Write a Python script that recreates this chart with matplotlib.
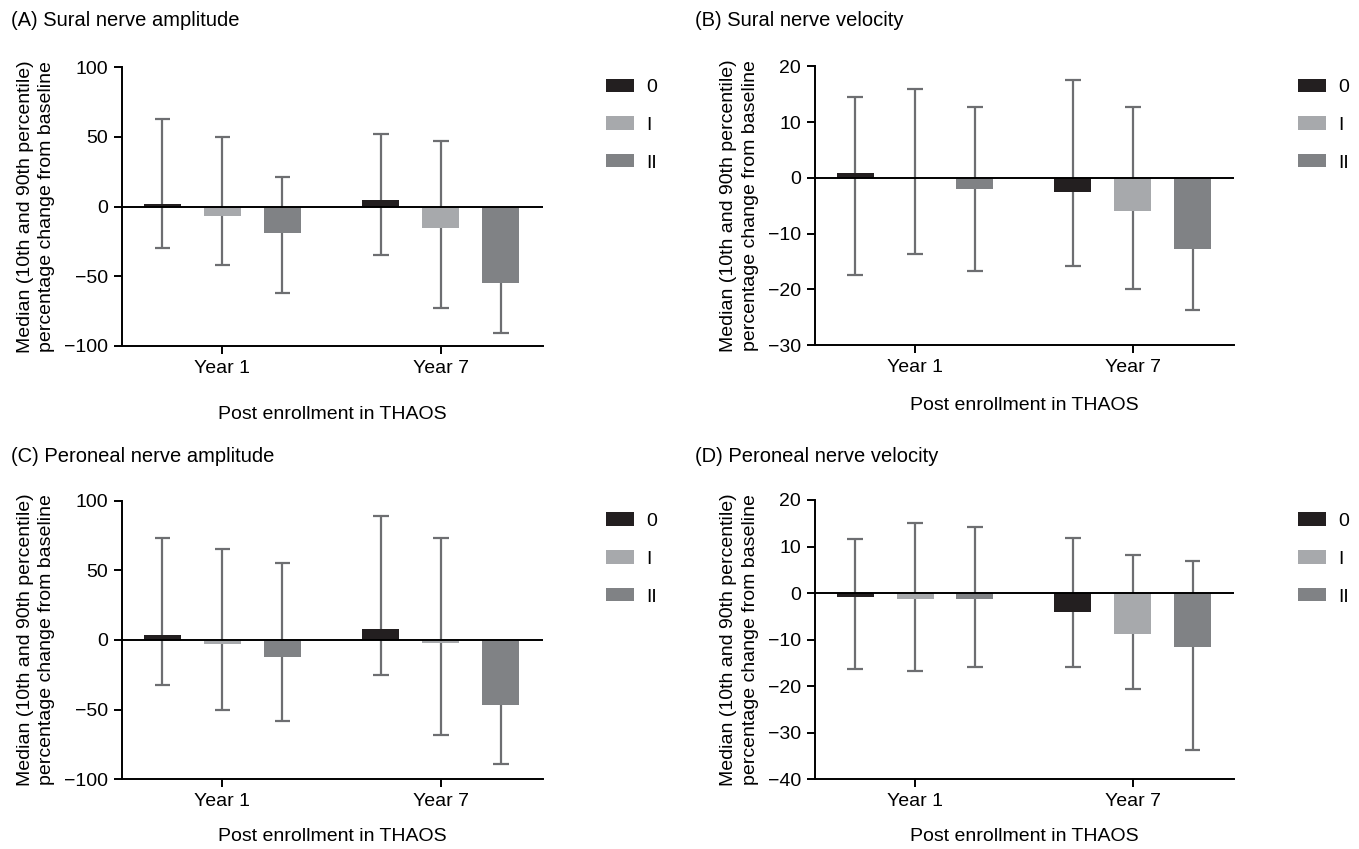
import numpy as np
import matplotlib
matplotlib.use("Agg")
import matplotlib.pyplot as plt

plt.rcParams['font.family'] = ['Liberation Sans', 'DejaVu Sans']

groups = ["Year 1", "Year 7"]
stages = ["0", "I", "II"]
colors = ["#231f20", "#a7a9ac", "#808285"]
whisker_color = "#6d6e71"

titles = ["(A) Sural nerve amplitude", "(B) Sural nerve velocity",
          "(C) Peroneal nerve amplitude", "(D) Peroneal nerve velocity"]

# medians[stage][group]
sural_amp_med = [[2, 5], [-7, -15], [-19, -55]]
sural_amp_p90 = [[63, 52], [50, 47], [21, np.nan]]
sural_amp_p10 = [[-30, -35], [-42, -73], [-62, -91]]

sural_vel_med = [[0.8, -2.5], [0, -5.9], [-2, -12.7]]
sural_vel_p90 = [[14.6, 17.5], [16, 12.8], [12.8, np.nan]]
sural_vel_p10 = [[-17.4, -15.8], [-13.7, -19.9], [-16.8, -23.8]]

peron_amp_med = [[3.5, 8], [-3, -2], [-12, -47]]
peron_amp_p90 = [[73, 89], [65, 73], [55, np.nan]]
peron_amp_p10 = [[-32, -25], [-50, -68], [-58, -89]]

peron_vel_med = [[-0.8, -4.1], [-1.2, -8.7], [-1.3, -11.6]]
peron_vel_p90 = [[11.7, 11.8], [15, 8.1], [14.2, 7]]
peron_vel_p10 = [[-16.4, -15.8], [-16.8, -20.6], [-15.8, -33.8]]

yticks_amp = [-100, -50, 0, 50, 100]
yticks_vel_b = [-30, -20, -10, 0, 10, 20]
yticks_vel_d = [-40, -30, -20, -10, 0, 10, 20]

panels = [
    (sural_amp_med, sural_amp_p90, sural_amp_p10, yticks_amp),
    (sural_vel_med, sural_vel_p90, sural_vel_p10, yticks_vel_b),
    (peron_amp_med, peron_amp_p90, peron_amp_p10, yticks_amp),
    (peron_vel_med, peron_vel_p90, peron_vel_p10, yticks_vel_d),
]

W, H = 1359, 849
fig = plt.figure(figsize=(W / 100, H / 100), dpi=100)

# axes boxes in pixels: left, right, top, bottom
boxes = [(122, 542.7, 67.3, 346), (815, 1234.3, 66.5, 345),
         (122, 542.7, 500.7, 779.3), (815, 1234.3, 500, 779.3)]
title_pos = [(11, 21), (695, 21), (11, 456), (695, 456)]
xlabel_pad = [21, 15, 13, 13]
legend_x = [606, 1298]
legend_y = [78.5, 512.5]

offsets = [-0.275, 0.0, 0.275]
bw = 0.17
cap = 0.036
fs = 14

for k, (med, p90, p10, yt) in enumerate(panels):
    l, r, t, b = boxes[k]
    ax = fig.add_axes([l / W, 1 - b / H, (r - l) / W, (b - t) / H])
    xg = np.arange(len(groups))
    handles = []
    for s in range(len(stages)):
        xs = xg + offsets[s]
        h = ax.bar(xs, med[s], width=bw, color=colors[s], zorder=3,
                   label=stages[s])
        handles.append(h)
        for g in range(len(groups)):
            lo = p10[s][g]
            hi = p90[s][g]
            top = hi if not np.isnan(hi) else med[s][g]
            ax.vlines(xs[g], lo, top, color=whisker_color, lw=1.6, zorder=2)
            ax.hlines(lo, xs[g] - cap, xs[g] + cap, color=whisker_color, lw=1.6, zorder=2)
            if not np.isnan(hi):
                ax.hlines(hi, xs[g] - cap, xs[g] + cap, color=whisker_color, lw=1.6, zorder=2)
    ax.axhline(0, color="black", lw=1.4, zorder=4)
    ax.set_xlim(-0.46, 1.467)
    ax.set_ylim(yt[0], yt[-1])
    ax.set_yticks(yt)
    ax.set_yticklabels([str(v).replace("-", "\u2212") for v in yt], fontsize=fs)
    ax.set_xticks(xg)
    ax.set_xticklabels(groups, fontsize=fs)
    for side in ["top", "right"]:
        ax.spines[side].set_visible(False)
    for side in ["left", "bottom"]:
        ax.spines[side].set_linewidth(1.4)
    ax.tick_params(axis="both", direction="out", length=6, width=1.4, pad=4)
    ax.set_xlabel("Post enrollment in THAOS", fontsize=fs, labelpad=xlabel_pad[k])
    ax.set_ylabel("Median (10th and 90th percentile)\npercentage change from baseline",
                  fontsize=fs, linespacing=1.35, labelpad=6.5)
    tx, ty = title_pos[k]
    fig.text(tx / W, 1 - ty / H, titles[k], fontsize=14.5, ha="left", va="center")
    lx = legend_x[k % 2]
    ly = legend_y[k // 2]
    ax.legend(handles=handles, loc="upper left",
              bbox_to_anchor=(lx / W, 1 - ly / H), bbox_transform=fig.transFigure,
              frameon=False, fontsize=fs, handlelength=1.44, handleheight=0.67,
              labelspacing=1.05, handletextpad=0.62, borderaxespad=0, borderpad=0)

fig.savefig("out.png", dpi=100)
